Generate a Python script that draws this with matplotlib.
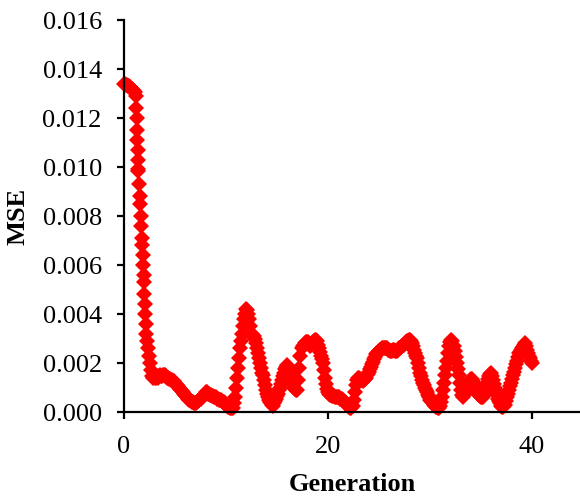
import numpy as np
import matplotlib
matplotlib.use("Agg")
import matplotlib.pyplot as plt
from matplotlib.ticker import FormatStrFormatter

plt.rcParams['font.family'] = ['Liberation Serif', 'DejaVu Serif']

# early part of the run (steep drop), MSE in units of 1e-3
head_gen = [0.0, 0.1, 0.2, 0.3, 0.4, 0.5, 0.6, 0.7, 0.8, 0.9, 1.0, 1.1, 1.2,
            1.22, 1.25, 1.28, 1.30, 1.33, 1.35, 1.38,
            1.42, 1.47, 1.52, 1.57, 1.62, 1.68, 1.74, 1.80,
            1.85, 1.88, 1.92, 1.96, 2.00, 2.04, 2.08, 2.12,
            2.18, 2.25, 2.35, 2.45, 2.55, 2.65, 2.75, 2.85]
head_mse = [13.4, 13.4, 13.35, 13.35, 13.3, 13.3, 13.25, 13.2, 13.2, 13.15, 13.1, 13.05, 12.9,
            12.4, 12.0, 11.5, 11.1, 10.7, 10.3, 9.9,
            9.85, 9.3, 8.8, 8.5, 8.0, 7.6, 7.1, 6.8,
            6.4, 6.0, 5.6, 5.3, 4.8, 4.4, 4.0, 3.6,
            3.2, 2.9, 2.6, 2.3, 2.0, 1.7, 1.45, 1.4]

# rest of the run, one row per generation (10 samples each, starting at 3.0)
tail_start = 3
tail_rows = [
    [1.4, 1.4, 1.45, 1.4, 1.45, 1.5, 1.45, 1.45, 1.5, 1.5],          # 3
    [1.5, 1.45, 1.4, 1.4, 1.35, 1.35, 1.3, 1.3, 1.25, 1.25],         # 4
    [1.2, 1.15, 1.1, 1.05, 1.0, 0.95, 0.9, 0.85, 0.8, 0.75],         # 5
    [0.7, 0.65, 0.6, 0.55, 0.5, 0.5, 0.45, 0.4, 0.4, 0.35],          # 6
    [0.35, 0.35, 0.4, 0.45, 0.5, 0.55, 0.6, 0.65, 0.7, 0.75],        # 7
    [0.8, 0.8, 0.75, 0.75, 0.7, 0.7, 0.65, 0.65, 0.6, 0.6],          # 8
    [0.6, 0.55, 0.55, 0.5, 0.5, 0.5, 0.45, 0.4, 0.4, 0.35],          # 9
    [0.3, 0.25, 0.2, 0.2, 0.15, 0.15, 0.15, 0.15, 0.35, 0.6],        # 10
    [1.0, 1.4, 1.8, 2.2, 2.6, 2.9, 3.2, 3.5, 3.8, 4.0],              # 11
    [4.2, 4.15, 4.0, 3.8, 3.5, 3.2, 3.05, 3.1, 3.0, 2.8],            # 12
    [2.6, 2.4, 2.2, 2.0, 1.8, 1.6, 1.5, 1.3, 1.1, 0.9],              # 13
    [0.75, 0.6, 0.5, 0.4, 0.35, 0.3, 0.25, 0.35, 0.45, 0.55],        # 14
    [0.65, 0.75, 0.9, 1.0, 1.15, 1.3, 1.45, 1.6, 1.75, 1.85],        # 15
    [1.9, 1.85, 1.7, 1.55, 1.4, 1.25, 1.1, 1.0, 0.95, 0.9],          # 16
    [0.9, 1.3, 1.8, 2.3, 2.6, 2.7, 2.75, 2.8, 2.85, 2.85],           # 17
    [2.85, 2.8, 2.7, 2.75, 2.8, 2.85, 2.9, 2.95, 2.95, 2.9],         # 18
    [2.75, 2.6, 2.45, 2.3, 2.15, 2.0, 1.7, 1.4, 1.15, 0.95],         # 19
    [0.8, 0.75, 0.7, 0.7, 0.65, 0.65, 0.65, 0.6, 0.6, 0.6],          # 20
    [0.6, 0.6, 0.55, 0.55, 0.55, 0.5, 0.45, 0.4, 0.35, 0.3],         # 21
    [0.25, 0.2, 0.15, 0.15, 0.25, 0.5, 0.8, 1.1, 1.3, 1.4],          # 22
    [1.4, 1.35, 1.3, 1.3, 1.25, 1.3, 1.35, 1.4, 1.5, 1.55],          # 23
    [1.65, 1.75, 1.85, 1.95, 2.05, 2.15, 2.25, 2.35, 2.4, 2.45],     # 24
    [2.5, 2.55, 2.55, 2.6, 2.6, 2.6, 2.6, 2.6, 2.6, 2.55],           # 25
    [2.55, 2.5, 2.5, 2.5, 2.55, 2.55, 2.5, 2.5, 2.5, 2.55],          # 26
    [2.6, 2.6, 2.65, 2.7, 2.75, 2.8, 2.85, 2.9, 2.9, 2.95],          # 27
    [2.95, 2.9, 2.8, 2.7, 2.55, 2.4, 2.3, 2.2, 2.0, 1.8],            # 28
    [1.6, 1.45, 1.3, 1.2, 1.1, 1.0, 0.9, 0.8, 0.7, 0.6],             # 29
    [0.5, 0.45, 0.4, 0.35, 0.3, 0.25, 0.2, 0.2, 0.15, 0.15],         # 30
    [0.25, 0.4, 0.6, 0.9, 1.2, 1.5, 1.8, 2.1, 2.4, 2.7],             # 31
    [2.85, 2.95, 2.9, 2.7, 2.5, 2.25, 2.0, 1.75, 1.5, 1.2],          # 32
    [0.9, 0.7, 0.6, 0.7, 0.8, 0.9, 1.0, 1.1, 1.2, 1.3],              # 33
    [1.35, 1.35, 1.25, 1.15, 1.05, 0.95, 0.85, 0.75, 0.7, 0.65],     # 34
    [0.6, 0.6, 0.6, 0.75, 0.9, 1.05, 1.2, 1.35, 1.45, 1.55],         # 35
    [1.6, 1.45, 1.3, 1.15, 1.0, 0.85, 0.7, 0.55, 0.45, 0.35],        # 36
    [0.25, 0.2, 0.2, 0.3, 0.45, 0.6, 0.75, 0.9, 1.05, 1.2],          # 37
    [1.35, 1.5, 1.65, 1.8, 1.95, 2.1, 2.25, 2.4, 2.45, 2.55],        # 38
    [2.6, 2.65, 2.75, 2.8, 2.7, 2.55, 2.4, 2.3, 2.2, 2.1],           # 39
    [2.0],                                                           # 40
]

tail_gen = []
tail_mse = []
for i, row in enumerate(tail_rows):
    for k, v in enumerate(row):
        tail_gen.append(tail_start + i + k / 10)
        tail_mse.append(v)

generation = np.array(head_gen + tail_gen)
mse = np.array(head_mse + tail_mse) * 1e-3

fig = plt.figure(figsize=(5.8, 4.97), dpi=100)
ax = fig.add_axes([0.2138, 0.171, 0.7862, 0.7887])

ax.plot(generation, mse, linestyle='none', marker='D', markersize=8,
        color='#ff0000', markeredgewidth=0, clip_on=False)

ax.set_xlim(0, 44.7)
ax.set_ylim(0, 0.016)
ax.set_xticks([0, 20, 40])
ax.set_yticks(np.arange(0, 0.0161, 0.002))
ax.yaxis.set_major_formatter(FormatStrFormatter('%.3f'))

ax.spines['top'].set_visible(False)
ax.spines['right'].set_visible(False)
ax.spines['left'].set_linewidth(1.6)
ax.spines['bottom'].set_linewidth(1.6)
ax.tick_params(axis='both', direction='out', length=5, width=1.6, labelsize=19)
ax.tick_params(axis='y', pad=11)
ax.tick_params(axis='x', pad=12)

ax.set_xlabel('Generation', fontsize=19, fontweight='bold', labelpad=11)
ax.set_ylabel('MSE', fontsize=19, fontweight='bold', labelpad=9)

fig.savefig('out.png', dpi=100)
